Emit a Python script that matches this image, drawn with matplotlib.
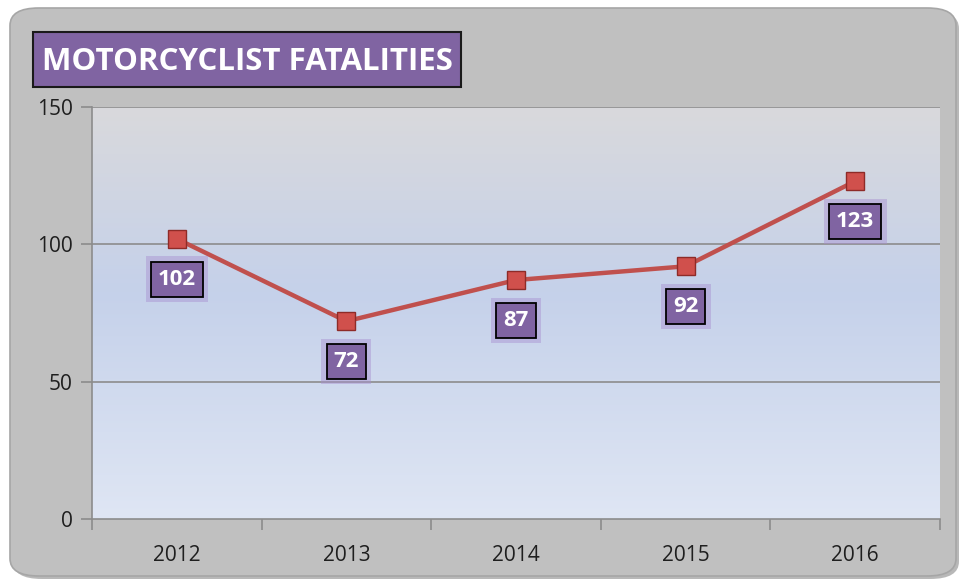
import matplotlib.pyplot as plt
import numpy as np
from matplotlib.patches import FancyBboxPatch, Rectangle
from matplotlib.colors import LinearSegmentedColormap

# data
years = ['2012', '2013', '2014', '2015', '2016']
fatalities = [102, 72, 87, 92, 123]
y_ticks = [0, 50, 100, 150]

W, H = 961, 582
fig = plt.figure(figsize=(W / 100, H / 100), dpi=100)
fig.patch.set_facecolor('white')

# outer rounded grey frame (with a little shadow)
shadow = FancyBboxPatch((13 / W, 3 / H), 946 / W, 568 / H,
                        boxstyle='round,pad=0,rounding_size=0.03',
                        transform=fig.transFigure, facecolor='#8a8a8a',
                        edgecolor='none', alpha=0.6, zorder=-3)
frame = FancyBboxPatch((10 / W, 6 / H), 946 / W, 568 / H,
                       boxstyle='round,pad=0,rounding_size=0.03',
                       transform=fig.transFigure, facecolor='#c0c0c0',
                       edgecolor='#a6a6a6', linewidth=1.2, zorder=-2)
fig.patches.extend([shadow, frame])

ax = fig.add_axes([92 / W, 63 / H, 848 / W, 412 / H])
ax.set_facecolor('none')
ax.set_zorder(1)

# background gradient of plot area
grad_cmap = LinearSegmentedColormap.from_list(
    'bg', [(0.0, '#dfe6f4'), (0.55, '#c5d1ea'), (1.0, '#d9d9dc')])
grad = np.linspace(0, 1, 256).reshape(-1, 1)
ax.imshow(grad, cmap=grad_cmap, aspect='auto', origin='lower',
          extent=[-0.5, 4.5, 0, 150], zorder=0)

x = np.arange(len(years))
ax.set_xlim(-0.5, len(years) - 0.5)
ax.set_ylim(0, 150)

# gridlines
for yv in y_ticks[1:]:
    ax.axhline(yv, color='#8c8c8c', linewidth=1.2, zorder=1)

ax.plot(x, fatalities, color='#c0504d', linewidth=3.2, zorder=3,
        marker='s', markersize=12.5, markerfacecolor='#d0504c',
        markeredgecolor='#8e2b28', markeredgewidth=1.0)

# data labels: glow + purple box
for xi, v in zip(x, fatalities):
    ax.annotate(str(v), (xi, v), xytext=(0, -29), textcoords='offset points',
                ha='center', va='center', fontsize=16, fontweight='bold',
                family='Open Sans', color='none', zorder=4,
                bbox=dict(boxstyle='square,pad=0.55', facecolor='#a88fd0',
                          edgecolor='none', alpha=0.45))
    ax.annotate(str(v), (xi, v), xytext=(0, -29), textcoords='offset points',
                ha='center', va='center', fontsize=16, fontweight='bold',
                family='Open Sans', color='white', zorder=5,
                bbox=dict(boxstyle='square,pad=0.32', facecolor='#8064a2',
                          edgecolor='black', linewidth=1.3))

# axes styling
for s in ['top', 'right']:
    ax.spines[s].set_visible(False)
ax.spines['left'].set_color('#8c8c8c')
ax.spines['bottom'].set_color('#8c8c8c')
ax.spines['left'].set_linewidth(1.2)
ax.spines['bottom'].set_linewidth(1.2)

ax.set_yticks(y_ticks)
ax.set_yticklabels([str(t) for t in y_ticks], family='Open Sans', fontsize=15,
                   color='#1f1f1f')
ax.tick_params(axis='y', length=8, color='#8c8c8c', width=1.2, pad=6)

ax.set_xticks(x)
ax.set_xticklabels(years, family='Open Sans', fontsize=15, color='#1f1f1f')
ax.tick_params(axis='x', length=0, pad=19)
ax.set_xticks(np.arange(-0.5, len(years)), minor=True)
ax.tick_params(axis='x', which='minor', length=8, color='#8c8c8c', width=1.2)

# title box
fig.patches.append(Rectangle((33 / W, 495 / H), 428 / W, 55 / H,
                             transform=fig.transFigure, facecolor='#8064a2',
                             edgecolor='#1a1a1a', linewidth=1.5, zorder=2))
fig.text(247 / W, (H - 62) / H, 'MOTORCYCLIST FATALITIES', ha='center',
         va='center', fontsize=22.5, fontweight='bold', family='Open Sans',
         color='white', zorder=3)

fig.savefig('out.png', dpi=100, facecolor=fig.get_facecolor())
